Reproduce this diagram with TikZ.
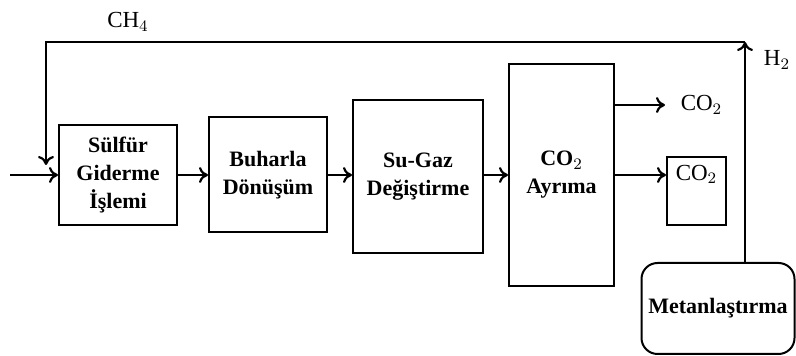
\documentclass[tikz,border=0pt]{standalone}
\usepackage{fontspec}
\setmainfont{Liberation Serif}
\usetikzlibrary{arrows.meta, positioning, calc}

\begin{document}
\begin{tikzpicture}[x=0.5pt, y=-0.5pt,
		procbox/.style={draw, line width=1pt, inner sep=0pt, align=center, font=\bfseries\fontsize{11}{14}\selectfont},
		lbl/.style={font=\fontsize{11.5}{13}\selectfont},
		flow/.style={line width=1.1pt, -{To[length=4.5pt, width=8pt]}}]
				\useasboundingbox (0,0) rectangle (796,356);
				% process boxes
				\node[procbox, minimum width=59pt, minimum height=50pt] (sulfur) at (118,175) {Sülfür\\Giderme\\İşlemi};
				\node[procbox, minimum width=59pt, minimum height=57.5pt] (buhar) at (268,175) {Buharla\\Dönüşüm};
				\node[procbox, minimum width=65pt, minimum height=76.5pt] (sugaz) at (418,176.5) {Su-Gaz\\Değiştirme};
				\node[procbox, minimum width=52.5pt, minimum height=111pt] (ayrim) at (561.5,175) {CO$_2$\\Ayrıma};
				\node[procbox, minimum width=29.5pt, minimum height=34pt] (co2box) at (696.5,191) {};
				\node[lbl, below=1pt of co2box.north] (co2in) {CO$_2$};
				\node[procbox, rounded corners=8pt, minimum width=76.5pt, minimum height=45.5pt] (metan) at (718,308.5) {Metanlaştırma};
				% free ends
				\coordinate (feed) at (10,175);
				\coordinate (h2top) at (745,42);
				\coordinate (ch4end) at (46,165);
				\coordinate (co2out) at (665,105);
				% main line
				\draw[flow] (feed) -- (sulfur);
				\draw[flow] (sulfur) -- (buhar);
				\draw[flow] (buhar) -- (sugaz.west |- buhar.east);
				\draw[flow] (sugaz.east |- ayrim.west) -- (ayrim.west);
				\draw[flow] (ayrim.east) -- (ayrim.east -| co2box.west);
				\draw[flow] (ayrim.east |- co2out) -- (co2out) node[lbl, right=4pt] (co2lbl) {CO$_2$};
				% recycle loop
				\draw[flow] (h2top |- metan.north) -- (h2top);
				\draw[flow] (h2top) -| (ch4end);
				\node[lbl] (ch4) at (128,22) {CH$_4$};
				\node[lbl] (h2) at (777,60) {H$_2$};
			\end{tikzpicture}
\end{document}
